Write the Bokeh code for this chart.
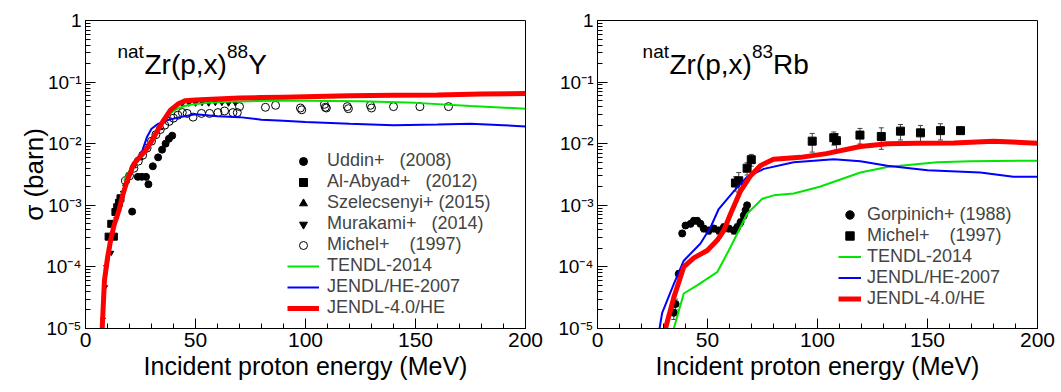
import numpy as np
from bokeh.plotting import figure
from bokeh.layouts import row
from bokeh.models import (Range1d, SingleIntervalTicker, FixedTicker, CustomJSTickFormatter,
                          Legend, LegendItem, Label, Whisker, TeeHead, ColumnDataSource)
from bokeh.embed import file_html
from bokeh.resources import INLINE

FONT = "Liberation Sans"
GREEN, BLUE, RED = "#00e600", "#0000ff", "#ff0000"

# ---------------- natZr(p,x)88Y ----------------
y88_jendl40_e = [7.6, 8.6, 10, 11.4, 13, 15.2, 17, 18.9, 22, 24.5, 27.3, 30, 32.6, 35.5, 38.6,
                 42, 45.5, 50, 60, 70, 80, 90, 100, 120, 140, 160, 180, 200]
y88_jendl40_s = [1e-5, 6e-5, 1.4e-4, 2.7e-4, 4.8e-4, 8.3e-4, 1.5e-3, 2.5e-3, 4.7e-3, 6.0e-3, 7.7e-3,
                 1.1e-2, 1.6e-2, 2.4e-2, 3.5e-2, 4.4e-2, 5.0e-2, 5.1e-2, 5.3e-2, 5.5e-2, 5.6e-2,
                 5.7e-2, 5.8e-2, 6.0e-2, 6.1e-2, 6.2e-2, 6.4e-2, 6.5e-2]
y88_tendl_e = [17.5, 20, 23.5, 27, 30.3, 33, 35.6, 38.5, 41.7, 45, 47.7, 55, 65, 75, 88, 100,
               125, 150, 175, 200]
y88_tendl_s = [2.5e-3, 3.6e-3, 5.3e-3, 7.6e-3, 1.12e-2, 1.6e-2, 2.4e-2, 3.1e-2, 3.7e-2, 4.1e-2,
               4.3e-2, 4.6e-2, 4.8e-2, 4.9e-2, 5.0e-2, 5.0e-2, 4.9e-2, 4.6e-2, 4.1e-2, 3.7e-2]
y88_jendlhe_e = [7.5, 9, 12, 15, 18, 21, 24, 26, 28, 30, 33, 37, 43, 50, 55, 60, 70, 80, 90, 100,
                 120, 140, 160, 175, 190, 200]
y88_jendlhe_s = [1e-5, 6e-5, 3e-4, 8e-4, 2.2e-3, 4e-3, 5.5e-3, 8e-3, 1.3e-2, 1.75e-2, 2.1e-2,
                 2.4e-2, 2.7e-2, 3.0e-2, 2.9e-2, 2.8e-2, 2.7e-2, 2.45e-2, 2.35e-2, 2.25e-2,
                 2.1e-2, 2.0e-2, 2.05e-2, 2.1e-2, 2.0e-2, 1.9e-2]

uddin_e = [21.2, 23.8, 25.6, 27.5, 28.6, 30.6, 33.0, 34.8, 36.4, 37.9, 39.4]
uddin_s = [7.9e-4, 2.9e-3, 2.9e-3, 2.9e-3, 2.2e-3, 4.3e-3, 6.0e-3, 8.0e-3, 1.0e-2, 1.2e-2, 1.35e-2]
alabyad_e = [10.5, 11.7, 12.9, 13.6, 14.4, 15.2, 15.9]
alabyad_s = [3.1e-4, 5.0e-4, 3.1e-4, 7.8e-4, 9.3e-4, 1.1e-3, 1.3e-3]
szel_e = [18, 20, 22, 25, 28, 31, 34]
szel_s = [2.2e-3, 3.3e-3, 4.3e-3, 5.8e-3, 8.8e-3, 1.3e-2, 1.8e-2]
murakami_e = [7.9, 8.9, 9.4, 11.7, 14, 17, 44, 47, 50, 53, 56, 59, 62, 65, 68]
murakami_s = [1.4e-5, 4.7e-5, 1.0e-4, 1.7e-4, 6e-4, 1.6e-3, 0.044, 0.045, 0.045, 0.046, 0.045,
              0.046, 0.046, 0.045, 0.046]
michel88_e = [18.2, 20, 22, 24, 26, 28, 30, 32, 34, 36, 38, 40, 42, 44, 46.2, 48.9, 52.7, 56.4,
              60.2, 63.2, 67, 69, 70, 81.8, 86.4, 97.7, 98.3, 108.6, 109, 109.5, 119, 119.5,
              129.5, 130, 140, 152, 165]
michel88_s = [2.5e-3, 3.0e-3, 4.0e-3, 5.2e-3, 6.5e-3, 8.5e-3, 1.1e-2, 1.4e-2, 1.7e-2, 2.0e-2,
              2.3e-2, 2.6e-2, 2.9e-2, 3.2e-2, 3.1e-2, 2.7e-2, 3.1e-2, 3.1e-2, 3.2e-2, 3.4e-2,
              3.2e-2, 3.2e-2, 4.0e-2, 3.9e-2, 4.2e-2, 3.8e-2, 3.55e-2, 4.35e-2, 3.9e-2, 3.8e-2,
              4.0e-2, 3.7e-2, 4.2e-2, 3.8e-2, 4.0e-2, 4.0e-2, 4.0e-2]

# ---------------- natZr(p,x)83Rb ----------------
rb_jendl40_e = [30.9, 34.7, 39.2, 43.8, 49.9, 54.4, 57.4, 60.5, 65, 69.5, 74, 80, 92.3, 104,
                119.5, 131.7, 145, 162, 180, 200]
rb_jendl40_s = [1e-5, 3.2e-5, 1.0e-4, 1.4e-4, 1.85e-4, 2.7e-4, 3.9e-4, 7.3e-4, 1.7e-3, 3.0e-3,
                4.4e-3, 5.6e-3, 6.0e-3, 6.9e-3, 9.0e-3, 1.0e-2, 1.02e-2, 1.03e-2, 1.1e-2, 1.02e-2]
rb_jendlhe_e = [28.2, 29.4, 34.7, 39.2, 46.8, 51.4, 55.1, 62, 68, 75.6, 89.2, 107.4, 119.5,
                131.7, 150, 174, 189, 200]
rb_jendlhe_s = [1e-5, 1.8e-5, 5.3e-5, 1.26e-4, 2.4e-4, 4.4e-4, 8.7e-4, 1.7e-3, 2.9e-3, 3.9e-3,
                5.0e-3, 5.6e-3, 5.2e-3, 4.4e-3, 3.7e-3, 3.4e-3, 2.9e-3, 2.9e-3]
rb_tendl_e = [34.7, 39.2, 45.3, 54.4, 60.5, 68, 74.9, 80.1, 89.2, 101, 119.5, 131.7, 154.4,
              169.5, 200]
rb_tendl_s = [1e-5, 3.7e-5, 5e-5, 8.2e-5, 2.1e-4, 7.3e-4, 1.28e-3, 1.45e-3, 1.55e-3, 2.0e-3,
              3.4e-3, 4.2e-3, 5.0e-3, 5.2e-3, 5.3e-3]

gorp_e = [34.7, 35.5, 36.9, 38.5, 40.0, 42.3, 43.8, 45.3, 46.8, 48.3, 50.6, 52.9, 55.1, 57.4,
          59.7, 62.0, 63.5, 65.0, 66.5, 67.3, 68.0]
gorp_s = [1.8e-5, 2.5e-5, 7.7e-5, 3.5e-4, 4.7e-4, 5.0e-4, 5.6e-4, 5.6e-4, 5.0e-4, 4.2e-4,
          3.9e-4, 4.2e-4, 3.9e-4, 4.4e-4, 4.2e-4, 3.9e-4, 4.4e-4, 5.3e-4, 6.8e-4, 8.3e-4, 1.0e-3]
gorp_err = [4e-6, 5e-6, 1e-5, 4e-5, 5e-5, 5e-5, 6e-5, 6e-5, 5e-5, 5e-5, 5e-5, 5e-5, 5e-5, 6e-5,
            5e-5, 5e-5, 6e-5, 7e-5, 8e-5, 9e-5, 1e-4]
michelrb_e = [62.7, 64.2, 68, 69.9, 97.6, 107.4, 108.6, 119.3, 129, 137.7, 146.8, 155.9, 165]
michelrb_s = [2.3e-3, 2.5e-3, 4.0e-3, 5.5e-3, 1.1e-2, 1.25e-2, 1.12e-2, 1.38e-2, 1.31e-2,
              1.6e-2, 1.5e-2, 1.63e-2, 1.63e-2]
michelrb_err = [6e-4, 9e-4, 9e-4, 1.2e-3, 3.7e-3, 3.0e-3, 3.3e-3, 3.9e-3, 5e-3, 4.5e-3,
                4.8e-3, 4.8e-3, 0]

decades = [1e-5, 1e-4, 1e-3, 1e-2, 1e-1, 1]
x_label = "Incident proton energy (MeV)"

sup_fmt = CustomJSTickFormatter(code="""
const sup = {"-":"\u207b","0":"\u2070","1":"\u00b9","2":"\u00b2","3":"\u00b3","4":"\u2074",
             "5":"\u2075","6":"\u2076","7":"\u2077","8":"\u2078","9":"\u2079"};
const e = Math.round(Math.log10(tick));
if (e == 0) return "1";
return "10" + String(e).split("").map(c => sup[c]).join("");
""")


def make_panel(width, left, right, ylabel):
    p = figure(width=width, height=392, x_range=Range1d(0, 200), y_range=Range1d(1e-5, 1),
               y_axis_type="log", output_backend="svg", toolbar_location=None,
               min_border_left=left, min_border_right=right, min_border_top=20,
               min_border_bottom=64)
    p.grid.visible = False
    p.outline_line_color = "black"
    p.outline_line_width = 1
    p.background_fill_color = "white"
    p.border_fill_color = "white"
    p.xaxis.ticker = SingleIntervalTicker(interval=50, num_minor_ticks=5)
    minors = [k * d for d in decades[:-1] for k in range(2, 10)]
    p.yaxis.ticker = FixedTicker(ticks=decades, minor_ticks=minors)
    p.yaxis.formatter = sup_fmt
    for ax in (p.xaxis[0], p.yaxis[0]):
        ax.major_tick_in = 10
        ax.major_tick_out = 0
        ax.minor_tick_in = 5
        ax.minor_tick_out = 0
        ax.axis_line_color = "black"
        ax.major_tick_line_color = "black"
        ax.minor_tick_line_color = "black"
        ax.major_label_text_font = FONT
        ax.axis_label_text_font = FONT
        ax.axis_label_text_font_style = "normal"
        ax.axis_label_text_color = "black"
        ax.major_label_text_color = "black"
    p.xaxis.major_label_text_font_size = "21px"
    p.yaxis.major_label_text_font_size = "19px"
    p.xaxis.major_label_standoff = 4
    p.yaxis.major_label_standoff = 4
    p.xaxis.axis_label = x_label
    p.xaxis.axis_label_text_font_size = "25px"
    p.xaxis.axis_label_standoff = 2
    if ylabel:
        p.yaxis.axis_label = ylabel
        p.yaxis.axis_label_text_font_size = "26px"
        p.yaxis.axis_label_standoff = -6
    return p


def add_title(p, parts):
    for x, y, txt, size in parts:
        p.add_layout(Label(x=x, y=y, text=txt, text_font=FONT, text_font_size=size,
                           text_baseline="alphabetic", text_color="black"))


def add_errors(p, e, s, err):
    s = np.array(s)
    err = np.array(err)
    src = ColumnDataSource(dict(e=e, lo=s - err, hi=s + err))
    p.add_layout(Whisker(source=src, base="e", lower="lo", upper="hi", dimension="height",
                         line_color="#444444", line_width=1,
                         lower_head=TeeHead(size=5, line_color="#444444"),
                         upper_head=TeeHead(size=5, line_color="#444444")))


# ---- left panel ----
p1 = make_panel(545, 85, 20, "\u03c3 (barn)")
add_title(p1, [(14.5, 0.314, "nat", "19px"), (26.8, 0.193, "Zr(p,x)", "28px"),
               (64.3, 0.314, "88", "19px"), (74.0, 0.193, "Y", "28px")])

r_udd = p1.scatter(uddin_e, uddin_s, marker="circle", size=7, color="black")
r_aby = p1.scatter(alabyad_e, alabyad_s, marker="square", size=7, color="black")
r_sze = p1.scatter(szel_e, szel_s, marker="triangle", size=5, color="black")
r_mur = p1.scatter(murakami_e, murakami_s, marker="inverted_triangle", size=5, color="black")
r_mic = p1.scatter(michel88_e, michel88_s, marker="circle", size=8, fill_color=None,
                   line_color="black", line_width=1)
r_ten = p1.line(y88_tendl_e, y88_tendl_s, line_color=GREEN, line_width=2)
r_jhe = p1.line(y88_jendlhe_e, y88_jendlhe_s, line_color=BLUE, line_width=2)
r_j40 = p1.line(y88_jendl40_e, y88_jendl40_s, line_color=RED, line_width=5)

leg1 = Legend(items=[
    LegendItem(label="Uddin+\u00a0\u00a0\u00a0(2008)", renderers=[r_udd]),
    LegendItem(label="Al-Abyad+\u00a0\u00a0\u00a0(2012)", renderers=[r_aby]),
    LegendItem(label="Szelecsenyi+\u00a0(2015)", renderers=[r_sze]),
    LegendItem(label="Murakami+\u00a0\u00a0\u00a0(2014)", renderers=[r_mur]),
    LegendItem(label="Michel+\u00a0\u00a0\u00a0\u00a0(1997)", renderers=[r_mic]),
    LegendItem(label="TENDL-2014", renderers=[r_ten]),
    LegendItem(label="JENDL/HE-2007", renderers=[r_jhe]),
    LegendItem(label="JENDL-4.0/HE", renderers=[r_j40]),
], location=(202, 10), padding=0, margin=0, spacing=0, glyph_width=32, glyph_height=20,
    label_height=20, label_standoff=8, label_text_font=FONT, label_text_font_size="18px",
    border_line_alpha=0, background_fill_alpha=0)
p1.add_layout(leg1)

# ---- right panel ----
p2 = make_panel(516, 52, 24, None)
add_title(p2, [(20.5, 0.314, "nat", "19px"), (32.7, 0.193, "Zr(p,x)", "28px"),
               (70.2, 0.314, "83", "19px"), (79.8, 0.193, "Rb", "28px")])

add_errors(p2, gorp_e, gorp_s, gorp_err)
add_errors(p2, michelrb_e, michelrb_s, michelrb_err)
r_gor = p2.scatter(gorp_e, gorp_s, marker="circle", size=7, color="black")
r_mrb = p2.scatter(michelrb_e, michelrb_s, marker="square", size=8, color="black")
r_ten2 = p2.line(rb_tendl_e, rb_tendl_s, line_color=GREEN, line_width=2)
r_jhe2 = p2.line(rb_jendlhe_e, rb_jendlhe_s, line_color=BLUE, line_width=2)
r_j402 = p2.line(rb_jendl40_e, rb_jendl40_s, line_color=RED, line_width=5)

leg2 = Legend(items=[
    LegendItem(label="Gorpinich+\u00a0(1988)", renderers=[r_gor]),
    LegendItem(label="Michel+\u00a0\u00a0\u00a0\u00a0(1997)", renderers=[r_mrb]),
    LegendItem(label="TENDL-2014", renderers=[r_ten2]),
    LegendItem(label="JENDL/HE-2007", renderers=[r_jhe2]),
    LegendItem(label="JENDL-4.0/HE", renderers=[r_j402]),
], location=(241, 19), padding=0, margin=0, spacing=0, glyph_width=23, glyph_height=21,
    label_height=21, label_standoff=6, label_text_font=FONT, label_text_font_size="18px",
    border_line_alpha=0, background_fill_alpha=0)
p2.add_layout(leg2)

layout = row(p1, p2)
open("out.html", "w").write(file_html(layout, INLINE))
